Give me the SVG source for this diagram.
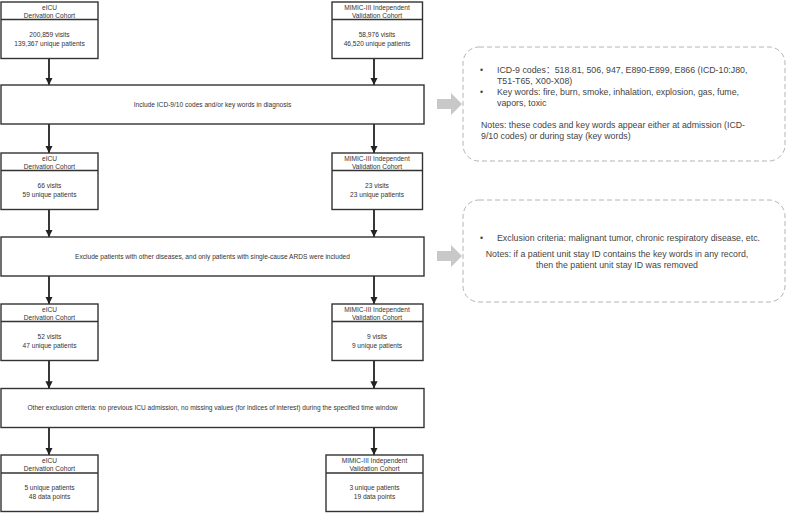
<svg xmlns="http://www.w3.org/2000/svg" width="787" height="513" viewBox="0 0 787 513">
<defs>
<style>
.box{fill:#fff;stroke:#333;stroke-width:1.4}
.t{font-family:"Liberation Sans","Noto Sans CJK SC",sans-serif;font-size:6.6px;fill:#333;text-anchor:middle}
.n{font-family:"Liberation Sans","Noto Sans CJK SC",sans-serif;font-size:8.8px;fill:#444}
.note{fill:#fff;stroke:#b4b4b4;stroke-width:1;stroke-dasharray:5 3}
.con{stroke:#222;stroke-width:1.8;fill:none;marker-end:url(#ah)}
.gray{fill:#c8c8c8}
</style>
<marker id="ah" viewBox="0 0 10 10" refX="10" refY="5" markerWidth="4" markerHeight="4" orient="auto" markerUnits="strokeWidth">
<path d="M0,0 L10,5 L0,10 z" fill="#222"/>
</marker>
</defs>
<g id="connectors">
<line class="con" x1="49" y1="58.5" x2="49" y2="85"/>
<line class="con" x1="374" y1="58.5" x2="374" y2="85"/>
<line class="con" x1="49" y1="124" x2="49" y2="153"/>
<line class="con" x1="374" y1="124" x2="374" y2="153"/>
<line class="con" x1="49" y1="209.5" x2="49" y2="237"/>
<line class="con" x1="374" y1="209.5" x2="374" y2="237"/>
<line class="con" x1="49" y1="276" x2="49" y2="304"/>
<line class="con" x1="374" y1="276" x2="374" y2="304"/>
<line class="con" x1="49" y1="360.5" x2="49" y2="388.5"/>
<line class="con" x1="374" y1="360.5" x2="374" y2="388.5"/>
<line class="con" x1="49" y1="427.5" x2="49" y2="455"/>
<line class="con" x1="374" y1="427.5" x2="374" y2="455"/>
<path class="gray" d="M437,99 L451,99 L451,93 L462,104 L451,115 L451,109 L437,109 z"/>
<path class="gray" d="M437,251 L451,251 L451,245 L462,256 L451,267 L451,261 L437,261 z"/>
</g>
<g id="eicu1">
<rect class="box" x="1" y="2" width="97" height="56.5"/>
<line class="box" x1="1" y1="19.5" x2="98" y2="19.5"/>
<text class="t" x="49.5" y="9.8">eICU</text>
<text class="t" x="49.5" y="17.6">Derivation Cohort</text>
<text class="t" x="49.5" y="37">200,859 visits</text>
<text class="t" x="49.5" y="45.6">139,367 unique patients</text>
</g>
<g id="mimic1">
<rect class="box" x="332" y="2" width="90.5" height="56.5"/>
<line class="box" x1="332" y1="19.5" x2="422.5" y2="19.5"/>
<text class="t" x="377" y="9.8">MIMIC-III Independent</text>
<text class="t" x="377" y="17.6">Validation Cohort</text>
<text class="t" x="377" y="37">58,976 visits</text>
<text class="t" x="377" y="45.6">46,520 unique patients</text>
</g>
<g id="filter1">
<rect class="box" x="1" y="85" width="423" height="39"/>
<text class="t" x="212.5" y="106.8">Include ICD-9/10 codes and/or key words in diagnosis</text>
</g>
<g id="note1">
<rect class="note" x="463" y="47" width="322" height="114" rx="16" ry="16"/>
<text class="n" x="480" y="73">•</text>
<text class="n" x="497" y="73">ICD-9 codes：518.81, 506, 947, E890-E899, E866 (ICD-10:J80,</text>
<text class="n" x="497" y="84">T51-T65, X00-X08)</text>
<text class="n" x="480" y="95">•</text>
<text class="n" x="497" y="95">Key words: fire, burn, smoke, inhalation, explosion, gas, fume,</text>
<text class="n" x="497" y="106">vapors, toxic</text>
<text class="n" x="481" y="128">Notes: these codes and key words appear either at admission (ICD-</text>
<text class="n" x="481" y="139">9/10 codes) or during stay (key words)</text>
</g>
<g id="eicu2">
<rect class="box" x="1" y="153" width="97" height="56.5"/>
<line class="box" x1="1" y1="170.5" x2="98" y2="170.5"/>
<text class="t" x="49.5" y="160.8">eICU</text>
<text class="t" x="49.5" y="168.6">Derivation Cohort</text>
<text class="t" x="49.5" y="188">66 visits</text>
<text class="t" x="49.5" y="196.6">59 unique patients</text>
</g>
<g id="mimic2">
<rect class="box" x="332" y="153" width="90.5" height="56.5"/>
<line class="box" x1="332" y1="170.5" x2="422.5" y2="170.5"/>
<text class="t" x="377" y="160.8">MIMIC-III Independent</text>
<text class="t" x="377" y="168.6">Validation Cohort</text>
<text class="t" x="377" y="188">23 visits</text>
<text class="t" x="377" y="196.6">23 unique patients</text>
</g>
<g id="filter2">
<rect class="box" x="1" y="237" width="423" height="39"/>
<text class="t" x="212.5" y="258.8">Exclude patients with other diseases, and only patients with single-cause ARDS were included</text>
</g>
<g id="note2">
<rect class="note" x="463" y="200" width="322" height="102" rx="16" ry="16"/>
<text class="n" x="480" y="241">•</text>
<text class="n" x="497" y="241">Exclusion criteria: malignant tumor, chronic respiratory disease, etc.</text>
<text class="n" x="617" y="257" text-anchor="middle">Notes: if a patient unit stay ID contains the key words in any record,</text>
<text class="n" x="617" y="268" text-anchor="middle">then the patient unit stay ID was removed</text>
</g>
<g id="eicu3">
<rect class="box" x="1" y="304" width="97" height="56.5"/>
<line class="box" x1="1" y1="321.5" x2="98" y2="321.5"/>
<text class="t" x="49.5" y="311.8">eICU</text>
<text class="t" x="49.5" y="319.6">Derivation Cohort</text>
<text class="t" x="49.5" y="339">52 visits</text>
<text class="t" x="49.5" y="347.6">47 unique patients</text>
</g>
<g id="mimic3">
<rect class="box" x="332" y="304" width="91" height="56.5"/>
<line class="box" x1="332" y1="321.5" x2="423" y2="321.5"/>
<text class="t" x="377" y="311.8">MIMIC-III Independent</text>
<text class="t" x="377" y="319.6">Validation Cohort</text>
<text class="t" x="377" y="339">9 visits</text>
<text class="t" x="377" y="347.6">9 unique patients</text>
</g>
<g id="filter3">
<rect class="box" x="1" y="388.5" width="423" height="39"/>
<text class="t" x="212.5" y="410">Other exclusion criteria: no previous ICU admission, no missing values (for indices of interest) during the specified time window</text>
</g>
<g id="eicu4">
<rect class="box" x="1" y="455" width="97" height="56.5"/>
<line class="box" x1="1" y1="473" x2="98" y2="473"/>
<text class="t" x="49.5" y="462.8">eICU</text>
<text class="t" x="49.5" y="470.6">Derivation Cohort</text>
<text class="t" x="49.5" y="490">5 unique patients</text>
<text class="t" x="49.5" y="498.6">48 data points</text>
</g>
<g id="mimic4">
<rect class="box" x="326" y="455" width="97" height="56.5"/>
<line class="box" x1="326" y1="473" x2="423" y2="473"/>
<text class="t" x="374.5" y="462.8">MIMIC-III Independent</text>
<text class="t" x="374.5" y="470.6">Validation Cohort</text>
<text class="t" x="374.5" y="490">3 unique patients</text>
<text class="t" x="374.5" y="498.6">19 data points</text>
</g>
</svg>
